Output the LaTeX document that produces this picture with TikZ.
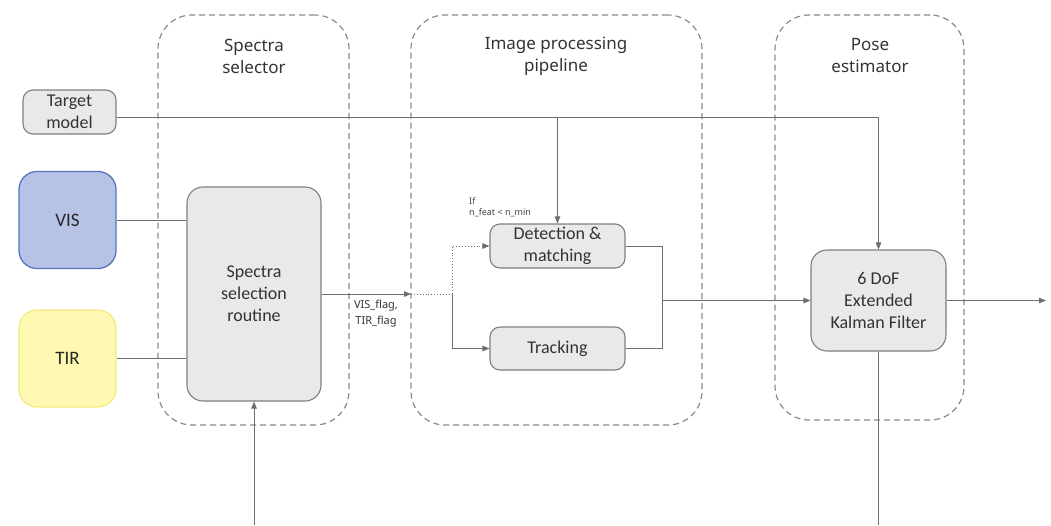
\documentclass[tikz,border=0pt]{standalone}
\usepackage{fontspec}
\setmainfont{Carlito}
\newfontfamily\plexlike{Noto Sans}
\usetikzlibrary{arrows.meta}
\definecolor{boxfill}{HTML}{E8E9EB}
\definecolor{boxdraw}{HTML}{7F7F7F}
\definecolor{linec}{HTML}{6E6E6E}
\definecolor{contc}{HTML}{8A8A8A}
\definecolor{visfill}{HTML}{B6C3E5}
\definecolor{visdraw}{HTML}{5874C2}
\definecolor{tirfill}{HTML}{FEF8B2}
\definecolor{tirdraw}{HTML}{F6EA82}
\tikzset{
  blk/.style={draw=boxdraw, fill=boxfill, line width=1.1pt, rounded corners=10pt, inner sep=0pt, align=center, font=\fontsize{18}{22}\selectfont, text=black!80},
  srcbox/.style={line width=1.3pt, rounded corners=18pt, inner sep=0pt, minimum width=97pt, minimum height=97pt, font=\fontsize{19}{22}\selectfont, text=black!85},
  cont/.style={draw=contc, dashed, dash pattern=on 6pt off 4pt, line width=1.2pt, rounded corners=34pt, inner sep=0pt},
  ttl/.style={align=center, font=\plexlike\fontsize{17}{22}\selectfont, text=black!80},
  wire/.style={draw=linec, line width=0.9pt},
  arr/.style={wire, -{Triangle[length=7pt,width=5.5pt]}},
  small/.style={align=center, font=\plexlike\fontsize{11}{16}\selectfont, text=black!80, inner sep=0pt},
  tiny/.style={align=left, font=\plexlike\fontsize{9}{11}\selectfont, text=black!75, inner sep=0pt}
}
\begin{document}
\begin{tikzpicture}[x=1pt,y=-1pt]
\useasboundingbox (0,0) rectangle (1051,525);
% containers
\node[cont, minimum width=191pt, minimum height=410pt] (c1) at (253.5,220) {};
\node[cont, minimum width=291pt, minimum height=410pt] (c2) at (556.5,220) {};
\node[cont, minimum width=189pt, minimum height=405pt] (c3) at (869.5,217.5) {};
\node[ttl] (t1) at (254,56) {Spectra\\selector};
\node[ttl] (t2) at (556,56) {Image processing\\pipeline};
\node[ttl] (t3) at (870,56) {Pose\\estimator};
% blocks
\node[blk, minimum width=93pt, minimum height=44pt] (target) at (69.5,112) {Target\\model};
\node[srcbox, draw=visdraw, fill=visfill] (vis) at (67.5,220) {VIS};
\node[srcbox, draw=tirdraw, fill=tirfill] (tir) at (67.5,358.5) {TIR};
\node[blk, minimum width=134pt, minimum height=214pt, rounded corners=16pt] (routine) at (254,294) {Spectra\\selection\\routine};
\node[blk, minimum width=135pt, minimum height=44pt] (det) at (557.5,246) {Detection \&\\matching};
\node[blk, minimum width=135pt, minimum height=43pt] (track) at (557.5,348.5) {Tracking};
\node[blk, minimum width=135pt, minimum height=101pt, rounded corners=16pt] (ekf) at (878.5,300.5) {6 DoF\\Extended\\Kalman Filter};
% labels
\node[small] (flags) at (376,314) {VIS\_flag,\\TIR\_flag};
\node[tiny, anchor=north west] (cond) at (469,197) {If\\n\_feat < n\_min};
% coordinates
\coordinate (j) at (411,294);
\coordinate (k) at (452,294);
\coordinate (m) at (662,300.5);
\coordinate (out) at (1046,300.5);
\coordinate (bin) at (254,525);
\coordinate (bout) at (878.5,525);
% connectors
\draw[arr] ([yshift=-5pt]target.east) -| (ekf.north);
\draw[arr] ([yshift=-5pt]target.east -| det.north) -- (det.north);
\draw[wire] (vis.east) -- (vis.east -| routine.west);
\draw[wire] (tir.east) -- (tir.east -| routine.west);
\draw[arr] (routine.east) -- (j);
\draw[wire, dotted] (j) -- (k);
\draw[arr, dotted] (k) |- (det.west);
\draw[arr] (k) |- (track.west);
\draw[wire] (det.east) -| (m) |- (track.east);
\draw[arr] (m) -- (ekf.west);
\draw[arr] (ekf.east) -- (out);
\draw[arr] (bin) -- (routine.south);
\draw[wire] (ekf.south) -- (bout);
\end{tikzpicture}
\end{document}
